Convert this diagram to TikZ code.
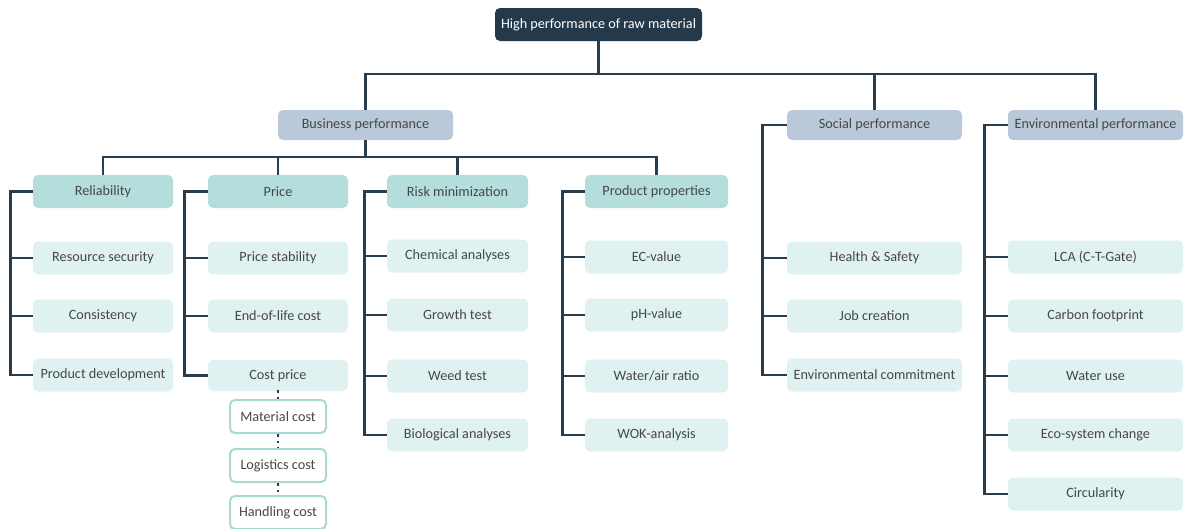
\documentclass[tikz,border=0pt]{standalone}
\usepackage{fontspec}
\setmainfont{Carlito}
\begin{document}
\begin{tikzpicture}[x=1pt,y=-1pt,
  font=\fontsize{14.2}{16}\selectfont,
  box/.style={rounded corners=5pt, inner sep=0pt, minimum height=33pt, text=black!72, align=center},
  topbox/.style={box, fill=topnavy, text=white, minimum width=207pt},
  perfbox/.style={box, fill=perfblue, minimum width=175pt, minimum height=30pt},
  catbox/.style={box, fill=cattealdark, minimum width=140pt},
  itembox/.style={box, fill=itemteal},
  costbox/.style={box, draw=costedge, line width=2pt, fill=white, minimum width=96pt, minimum height=33pt},
  conn/.style={draw=linenavy, line width=2.8pt},
  dots/.style={draw=linenavy, line width=2.5pt, dash pattern=on 2.5pt off 4pt}
]
\definecolor{topnavy}{HTML}{243A4B}
\definecolor{linenavy}{HTML}{2A3D4D}
\definecolor{perfblue}{HTML}{B9C9D9}
\definecolor{cattealdark}{HTML}{B3DEDB}
\definecolor{itemteal}{HTML}{E0F1F1}
\definecolor{costedge}{HTML}{A9D9D5}
\useasboundingbox (0,0) rectangle (1184,528);

% root and the three performance areas
\node[topbox] (top) at (598.5,24.5) {High performance of raw material};
\node[perfbox] (bus) at (365.5,125) {Business performance};
\node[perfbox] (soc) at (874.5,125) {Social performance};
\node[perfbox] (env) at (1095.5,125) {Environmental performance};

\coordinate (bar1) at (598.5,74);
\draw[conn] (top.south) -- (bar1);
\draw[conn] (bus.north) |- (bar1) -| (env.north);
\draw[conn] (soc.north) -- (soc.north |- bar1);

% business categories
\node[catbox] (rel) at (103,191.5) {Reliability};
\node[catbox] (pri) at (278,191.5) {Price};
\node[catbox, minimum width=141pt] (risk) at (457.5,191.5) {Risk minimization};
\node[catbox, minimum width=143pt] (prop) at (656.5,191.5) {Product properties};

\coordinate (bar2) at (365.5,157);
\draw[conn] (bus.south) -- (bar2);
\draw[conn] (rel.north) |- (bar2) -| (prop.north);
\draw[conn] (pri.north) -- (pri.north |- bar2);
\draw[conn] (risk.north) -- (risk.north |- bar2);

% reliability
\node[itembox, minimum width=140pt] (rs) at (103,258) {Resource security};
\node[itembox, minimum width=140pt] (cons) at (103,316) {Consistency};
\node[itembox, minimum width=140pt] (pdev) at (103,375) {Product development};
\draw[conn] (rel.west) -- ++(-22,0) |- (pdev.west);
\draw[conn] (rs.west) -- ++(-22,0);
\draw[conn] (cons.west) -- ++(-22,0);

% price
\node[itembox, minimum width=140pt] (pst) at (278,258) {Price stability};
\node[itembox, minimum width=140pt] (eol) at (278,316) {End-of-life cost};
\node[itembox, minimum width=140pt, minimum height=31pt] (cp) at (278,375.5) {Cost price};
\draw[conn] (pri.west) -- ++(-23,0) |- (cp.west);
\draw[conn] (pst.west) -- ++(-23,0);
\draw[conn] (eol.west) -- ++(-23,0);

\node[costbox] (mc) at (278,416.5) {Material cost};
\node[costbox] (lc) at (278,465.5) {Logistics cost};
\node[costbox] (hc) at (278,512.5) {Handling cost};
\draw[dots] ([yshift=1pt]cp.south) -- (mc.north);
\draw[dots] (mc.south) -- (lc.north);
\draw[dots] (lc.south) -- (hc.north);

% risk minimization
\node[itembox, minimum width=141pt] (chem) at (457.5,256) {Chemical analyses};
\node[itembox, minimum width=141pt] (grow) at (457.5,315) {Growth test};
\node[itembox, minimum width=141pt] (weed) at (457.5,376) {Weed test};
\node[itembox, minimum width=141pt] (bio) at (457.5,435) {Biological analyses};
\draw[conn] (risk.west) -- ++(-22,0) |- (bio.west);
\draw[conn] (chem.west) -- ++(-22,0);
\draw[conn] (grow.west) -- ++(-22,0);
\draw[conn] (weed.west) -- ++(-22,0);

% product properties
\node[itembox, minimum width=143pt] (ec) at (656.5,257) {EC-value};
\node[itembox, minimum width=143pt] (ph) at (656.5,315) {pH-value};
\node[itembox, minimum width=143pt] (wa) at (656.5,376) {Water/air ratio};
\node[itembox, minimum width=143pt] (wok) at (656.5,435) {WOK-analysis};
\draw[conn] (prop.west) -- ++(-22,0) |- (wok.west);
\draw[conn] (ec.west) -- ++(-22,0);
\draw[conn] (ph.west) -- ++(-22,0);
\draw[conn] (wa.west) -- ++(-22,0);

% social performance
\node[itembox, minimum width=175pt] (hs) at (874.5,258) {Health \& Safety};
\node[itembox, minimum width=175pt] (job) at (874.5,316) {Job creation};
\node[itembox, minimum width=175pt] (ecom) at (874.5,375) {Environmental commitment};
\draw[conn] (soc.west) -- ++(-24,0) |- (ecom.west);
\draw[conn] (hs.west) -- ++(-24,0);
\draw[conn] (job.west) -- ++(-24,0);

% environmental performance
\node[itembox, minimum width=175pt] (lca) at (1095.5,257) {LCA (C-T-Gate)};
\node[itembox, minimum width=175pt] (cfp) at (1095.5,316) {Carbon footprint};
\node[itembox, minimum width=175pt] (wu) at (1095.5,376) {Water use};
\node[itembox, minimum width=175pt] (eco) at (1095.5,435) {Eco-system change};
\node[itembox, minimum width=175pt] (circ) at (1095.5,494) {Circularity};
\draw[conn] (env.west) -- ++(-23,0) |- (circ.west);
\draw[conn] (lca.west) -- ++(-23,0);
\draw[conn] (cfp.west) -- ++(-23,0);
\draw[conn] (wu.west) -- ++(-23,0);
\draw[conn] (eco.west) -- ++(-23,0);
\end{tikzpicture}
\end{document}
